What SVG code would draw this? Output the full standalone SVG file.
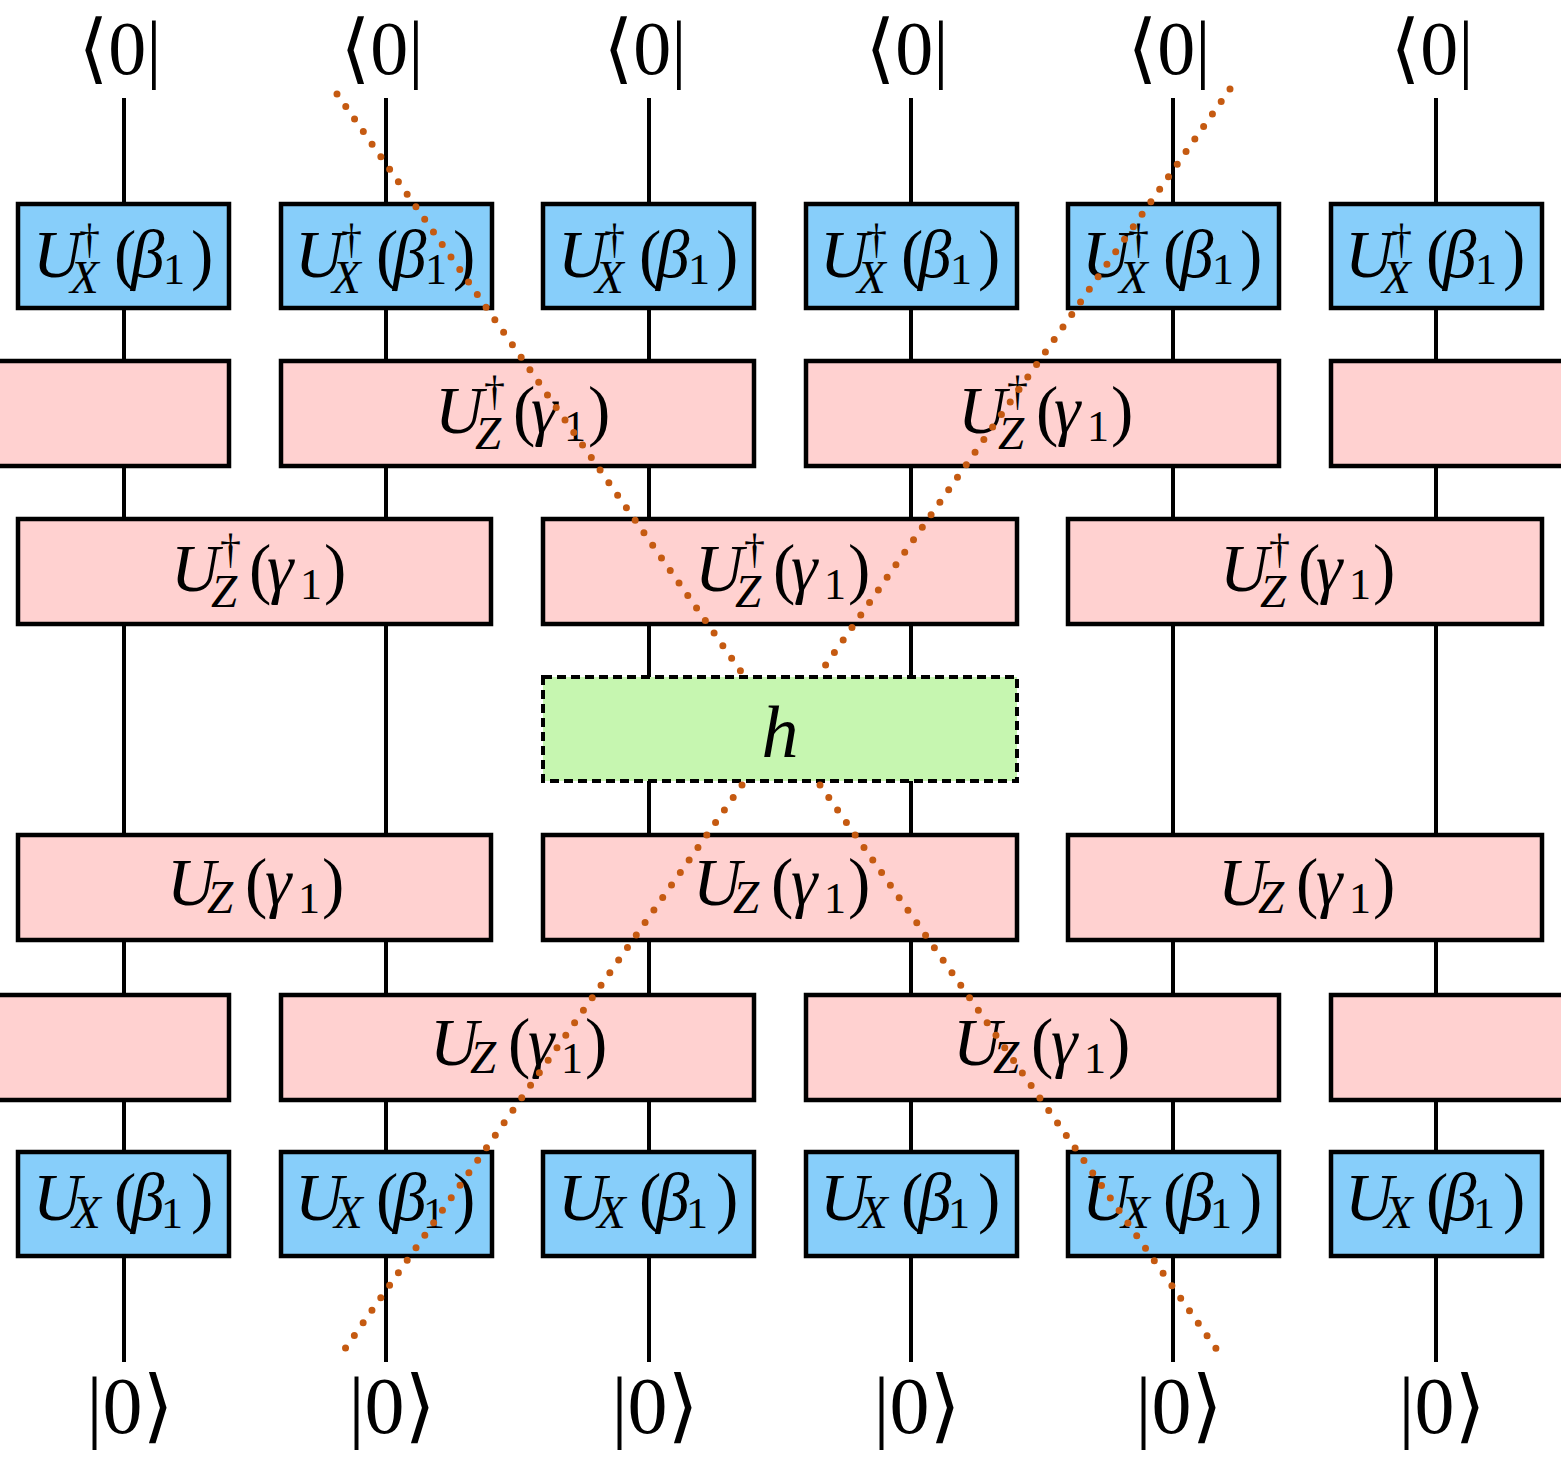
<svg xmlns="http://www.w3.org/2000/svg" width="1561" height="1458" viewBox="0 0 1561 1458">
<style>
.wire{stroke:#000;stroke-width:4;fill:none}
.dot{stroke:#c55a11;stroke-width:7;stroke-linecap:round;stroke-dasharray:0 15.3;fill:none}
.bx{fill:#87cefa;stroke:#000;stroke-width:4.5}
.pk{fill:#ffd1d0;stroke:#000;stroke-width:4.5}
.gr{fill:#c6f6b0;stroke:#000;stroke-width:4;stroke-dasharray:9 5}
text{font-family:"Liberation Serif","DejaVu Serif","DejaVu Sans",serif;fill:#000}
.m{font-size:67px}
.i{font-style:italic}
.sub{font-size:47px}
.sup{font-size:42px}
.one{font-size:44px}
.st{font-size:76px}
.sb{font-size:80px}
</style>
<rect width="1561" height="1458" fill="#fff"/>
<g id="connectors">
<line class="wire" x1="124" y1="98" x2="124" y2="1362"/>
<line class="wire" x1="386" y1="98" x2="386" y2="1362"/>
<line class="wire" x1="649" y1="98" x2="649" y2="1362"/>
<line class="wire" x1="911" y1="98" x2="911" y2="1362"/>
<line class="wire" x1="1173" y1="98" x2="1173" y2="1362"/>
<line class="wire" x1="1436" y1="98" x2="1436" y2="1362"/>
</g>
<g id="labels-top">
<text class="st" x="120" y="74" text-anchor="middle">⟨0|</text>
<text class="st" x="382" y="74" text-anchor="middle">⟨0|</text>
<text class="st" x="645" y="74" text-anchor="middle">⟨0|</text>
<text class="st" x="907" y="74" text-anchor="middle">⟨0|</text>
<text class="st" x="1169" y="74" text-anchor="middle">⟨0|</text>
<text class="st" x="1432" y="74" text-anchor="middle">⟨0|</text>
</g>
<g id="labels-bottom">
<text class="sb" x="130" y="1433" text-anchor="middle">|0⟩</text>
<text class="sb" x="392" y="1433" text-anchor="middle">|0⟩</text>
<text class="sb" x="655" y="1433" text-anchor="middle">|0⟩</text>
<text class="sb" x="917" y="1433" text-anchor="middle">|0⟩</text>
<text class="sb" x="1179" y="1433" text-anchor="middle">|0⟩</text>
<text class="sb" x="1442" y="1433" text-anchor="middle">|0⟩</text>
</g>
<defs>
<g id="lblA"><text class="m"><tspan class="i" x="-91" y="21">U</tspan><tspan class="sup" x="-45" y="-3">†</tspan><tspan class="i sub" x="-54" y="37">X</tspan><tspan x="-10" y="21">(</tspan><tspan class="i" x="7" y="21">β</tspan><tspan class="one" x="39" y="28">1</tspan><tspan x="67" y="21">)</tspan></text></g>
<g id="lblB"><text class="m"><tspan class="i" x="-91" y="16">U</tspan><tspan class="i sub" x="-52" y="24">X</tspan><tspan x="-10" y="16">(</tspan><tspan class="i" x="7" y="16">β</tspan><tspan class="one" x="37" y="24">1</tspan><tspan x="67" y="16">)</tspan></text></g>
<g id="lblC"><text class="m"><tspan class="i" x="-87" y="20">U</tspan><tspan class="sup" x="-38" y="-8">†</tspan><tspan class="i sub" x="-47" y="36">Z</tspan><tspan x="-9" y="20">(</tspan><tspan class="i" x="9" y="20">γ</tspan><tspan class="one" x="42" y="28">1</tspan><tspan x="66" y="20">)</tspan></text></g>
<g id="lblD"><text class="m"><tspan class="i" x="-87" y="18">U</tspan><tspan class="i sub" x="-47" y="26">Z</tspan><tspan x="-9" y="18">(</tspan><tspan class="i" x="11" y="18">γ</tspan><tspan class="one" x="44" y="26">1</tspan><tspan x="68" y="18">)</tspan></text></g>
</defs>
<g id="row1">
<g id="n-ux1"><rect class="bx" x="18" y="204" width="211" height="104"/><use href="#lblA" x="124" y="256"/></g>
<g id="n-ux2"><rect class="bx" x="281" y="204" width="211" height="104"/><use href="#lblA" x="386" y="256"/></g>
<g id="n-ux3"><rect class="bx" x="543" y="204" width="211" height="104"/><use href="#lblA" x="649" y="256"/></g>
<g id="n-ux4"><rect class="bx" x="806" y="204" width="211" height="104"/><use href="#lblA" x="911" y="256"/></g>
<g id="n-ux5"><rect class="bx" x="1068" y="204" width="211" height="104"/><use href="#lblA" x="1173" y="256"/></g>
<g id="n-ux6"><rect class="bx" x="1331" y="204" width="211" height="104"/><use href="#lblA" x="1436" y="256"/></g>
</g>
<g id="row2">
<g id="n-uz2a"><rect class="pk" x="-10" y="361" width="239" height="105"/></g>
<g id="n-uz2b"><rect class="pk" x="281" y="361" width="473" height="105"/><use href="#lblC" x="522" y="413"/></g>
<g id="n-uz2c"><rect class="pk" x="806" y="361" width="473" height="105"/><use href="#lblC" x="1045" y="413"/></g>
<g id="n-uz2d"><rect class="pk" x="1331" y="361" width="240" height="105"/></g>
</g>
<g id="row3">
<g id="n-uz3a"><rect class="pk" x="18" y="519" width="473" height="105"/><use href="#lblC" x="258" y="571"/></g>
<g id="n-uz3b"><rect class="pk" x="543" y="519" width="474" height="105"/><use href="#lblC" x="782" y="571"/></g>
<g id="n-uz3c"><rect class="pk" x="1068" y="519" width="474" height="105"/><use href="#lblC" x="1307" y="571"/></g>
</g>
<g id="n-h"><rect class="gr" x="543" y="677" width="474" height="104"/><text x="780" y="757" text-anchor="middle" class="i" style="font-size:74px">h</text></g>
<g id="row4">
<g id="n-uz4a"><rect class="pk" x="18" y="835" width="473" height="105"/><use href="#lblD" x="254" y="887"/></g>
<g id="n-uz4b"><rect class="pk" x="543" y="835" width="474" height="105"/><use href="#lblD" x="780" y="887"/></g>
<g id="n-uz4c"><rect class="pk" x="1068" y="835" width="474" height="105"/><use href="#lblD" x="1305" y="887"/></g>
</g>
<g id="row5">
<g id="n-uz5a"><rect class="pk" x="-10" y="995" width="239" height="105"/></g>
<g id="n-uz5b"><rect class="pk" x="281" y="995" width="473" height="105"/><use href="#lblD" x="517" y="1047"/></g>
<g id="n-uz5c"><rect class="pk" x="806" y="995" width="473" height="105"/><use href="#lblD" x="1040" y="1047"/></g>
<g id="n-uz5d"><rect class="pk" x="1331" y="995" width="240" height="105"/></g>
</g>
<g id="row6">
<g id="n-vx1"><rect class="bx" x="18" y="1152" width="211" height="104"/><use href="#lblB" x="124" y="1204"/></g>
<g id="n-vx2"><rect class="bx" x="281" y="1152" width="211" height="104"/><use href="#lblB" x="386" y="1204"/></g>
<g id="n-vx3"><rect class="bx" x="543" y="1152" width="211" height="104"/><use href="#lblB" x="649" y="1204"/></g>
<g id="n-vx4"><rect class="bx" x="806" y="1152" width="211" height="104"/><use href="#lblB" x="911" y="1204"/></g>
<g id="n-vx5"><rect class="bx" x="1068" y="1152" width="211" height="104"/><use href="#lblB" x="1173" y="1204"/></g>
<g id="n-vx6"><rect class="bx" x="1331" y="1152" width="211" height="104"/><use href="#lblB" x="1436" y="1204"/></g>
</g>
<g id="lightcone">
<line class="dot" x1="337" y1="94" x2="742" y2="673"/>
<line class="dot" x1="1230" y1="89" x2="820" y2="673"/>
<line class="dot" x1="742" y1="785" x2="337" y2="1360"/>
<line class="dot" x1="820" y1="785" x2="1222" y2="1357"/>
</g>
</svg>
